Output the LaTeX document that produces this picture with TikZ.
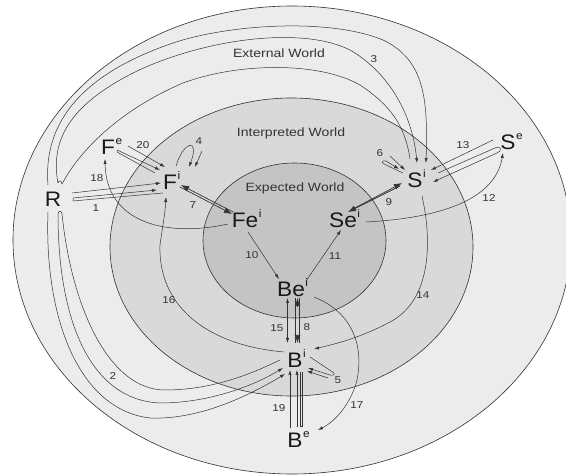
\documentclass[tikz,border=0pt]{standalone}
\usepackage{fontspec}
\setmainfont{Liberation Sans}
\newfontfamily\bigfont[FakeStretch=1.08]{Liberation Sans}
\newfontfamily\lblfont[FakeStretch=1.17]{Liberation Sans}
\usetikzlibrary{calc,arrows.meta}
\definecolor{extw}{gray}{0.925}
\definecolor{intw}{gray}{0.85}
\definecolor{expw}{gray}{0.77}
\definecolor{edge}{gray}{0.2}
\newcommand{\supr}[1]{\rlap{\smash{\raisebox{9.5pt}{\fontsize{11}{11}\selectfont\kern0.6pt#1}}}}
\tikzset{
  fbsvar/.style={font=\bigfont\fontsize{21}{22}\selectfont, inner sep=0pt, text=black!90},
  proc/.style={font=\lblfont\fontsize{10}{10}\selectfont, inner sep=0pt, text=black!80},
  worldlbl/.style={font=\lblfont\fontsize{12}{12}\selectfont, inner sep=0pt, text=black!80},
  flow/.style={draw=edge, line width=0.5pt, line join=round},
  head/.style={flow, -{Latex[length=5pt,width=3.2pt]}},
  twohead/.style={flow, {Latex[length=5pt,width=3.2pt]}-{Latex[length=5pt,width=3.2pt]}},
  bighead/.style={flow, line width=0.7pt, -{Latex[length=8pt,width=6pt]}},
  world/.style={draw=edge, line width=0.6pt}
}

\begin{document}
\begin{tikzpicture}[x=1pt,y=-1pt,font=\small]
  \useasboundingbox (0,0) rectangle (566,476);
  \clip (0,0) rectangle (566,476);
  \fill[white] (0,0) rectangle (566,476);
  \filldraw[world, fill=extw] (292,240) ellipse [x radius=279pt, y radius=234pt];
  \filldraw[world, fill=intw] (291.5,247) ellipse [x radius=181.5pt, y radius=149pt];
  \filldraw[world, fill=expw] (294.5,240.5) ellipse [x radius=91.5pt, y radius=77.5pt];

  \node[worldlbl] (extlbl) at (279,53) {External World};
  \node[worldlbl] (intlbl) at (291,133) {Interpreted World};
  \node[worldlbl] (explbl) at (295,188) {Expected World};

  \node[fbsvar] (R) at (53,199) {R};
  \node[fbsvar] (Fe) at (108,147) {F\supr{e}};
  \node[fbsvar] (Fi) at (170,182) {F\supr{i}};
  \node[fbsvar] (Fei) at (245,220) {Fe\supr{i}};
  \node[fbsvar] (Si) at (415,180) {S\supr{i}};
  \node[fbsvar] (Se) at (508,142) {S\supr{e}};
  \node[fbsvar] (Sei) at (343,220) {Se\supr{i}};
  \node[fbsvar] (Bei) at (291,289) {Be\supr{i}};
  \node[fbsvar] (Bi) at (295,360) {B\supr{i}};
  \node[fbsvar] (Be) at (295,440) {B\supr{e}};

  \node[proc] (n1) at (96,208) {1};
  \node[proc] (n2) at (113,376) {2};
  \node[proc] (n3) at (374,59) {3};
  \node[proc] (n4) at (199,141) {4};
  \node[proc] (n5) at (338,380) {5};
  \node[proc] (n6) at (380,153) {6};
  \node[proc] (n7) at (193,205) {7};
  \node[proc] (n8) at (307,327) {8};
  \node[proc] (n9) at (389,202) {9};
  \node[proc] (n10) at (252,255) {10};
  \node[proc] (n11) at (335,256) {11};
  \node[proc] (n12) at (489,198) {12};
  \node[proc] (n13) at (463,145) {13};
  \node[proc] (n14) at (423,295) {14};
  \node[proc] (n15) at (277,328) {15};
  \node[proc] (n16) at (169,300) {16};
  \node[proc] (n17) at (357,405) {17};
  \node[proc] (n18) at (97,178) {18};
  \node[proc] (n19) at (279,408) {19};
  \node[proc] (n20) at (143,145) {20};

  % 1
  \draw[head] ($(R)+(19,-6)$) -- ($(Fi)+(-9,1)$);
  \draw[head] ($(Fi)+(-7,11)$) -- ($(R)+(20,2)$) -- ($(R)+(20,-1)$) -- ($(Fi)+(-13,8)$);
  % 2
  \draw[head] ($(R)+(-5,13)$) .. controls (44,320) and (80,410) .. (150,418)
    .. controls (200,420) and (250,395) .. ($(Bi)+(-10,14)$);
  \draw[head] ($(Bi)+(-15,0)$) .. controls (255,372) and (215,390) .. (165,390)
    .. controls (110,390) and (72,310) .. ($(R)+(9,15)$)
    .. controls ($(R)+(8,11)$) and ($(R)+(6,11)$) .. ($(R)+(5,15)$)
    .. controls (58,320) and (90,400) .. (160,403)
    .. controls (210,403) and (255,385) .. ($(Bi)+(-12,8)$);
  % 3
  \draw[head] ($(R)+(-5,-14)$) .. controls (42,110) and (100,68) .. (173,43)
    .. controls (230,24) and (330,18) .. (383,40)
    .. controls (425,60) and (428,100) .. ($(Si)+(11,-17)$);
  \draw[head] ($(Si)+(-5,-21)$) .. controls (405,125) and (390,105) .. (360,85)
    .. controls (320,62) and (240,62) .. (183,83)
    .. controls (120,110) and (80,150) .. ($(R)+(9,-15)$)
    .. controls ($(R)+(8,-19)$) and ($(R)+(6,-19)$) .. ($(R)+(5,-16)$)
    .. controls (50,140) and (70,105) .. (133,73)
    .. controls (200,40) and (300,25) .. (350,50)
    .. controls (385,70) and (412,110) .. ($(Si)+(2,-17)$);
  % 4
  \draw[head] ($(Fi)+(6,-16)$) .. controls (184,140) and (200,138) .. ($(Fi)+(19,-15)$);
  \draw[head] ($(Fi)+(32,-31)$) -- ($(Fi)+(25,-15)$);
  % 5
  \draw[head] ($(Bi)+(15,-3)$) -- (331,371) .. controls (336,373) and (335,376) .. (330,375) -- ($(Bi)+(13,8)$);
  \draw[head] (328,378) -- ($(Bi)+(12,11)$);
  % 6
  \draw[head] ($(Si)+(-12,-7)$) -- (386,165) .. controls (381,163) and (381,160) .. (386,161) -- ($(Si)+(-16,-11)$);
  \draw[head] (390,156) -- ($(Si)+(-10,-10)$);
  % 7
  \draw[bighead] ($(Fi)+(10,5)$) -- ($(Fei)+(-13,-6)$);
  \draw[bighead] ($(Fei)+(-12,-8)$) -- ($(Fi)+(11,3)$);
  % 8
  \draw[flow] ($(Bei)+(4.5,9)$) -- ($(Bi)+(0.5,-17)$);
  \draw[flow] ($(Bei)+(8.5,9)$) -- ($(Bi)+(4.5,-17)$);
  \draw[bighead] ($(Bei)+(6.5,17)$) -- ($(Bei)+(6.5,9)$);
  \draw[bighead] ($(Bi)+(2.5,-25)$) -- ($(Bi)+(2.5,-17)$);
  % 9
  \draw[bighead] ($(Sei)+(10,-11)$) -- ($(Si)+(-13,3)$);
  \draw[bighead] ($(Si)+(-15,6)$) -- ($(Sei)+(5,-8)$);
  % 10, 11
  \draw[head] ($(Fei)+(3,12)$) -- ($(Bei)+(-12,-10)$);
  \draw[head] ($(Bei)+(15,-8)$) -- ($(Sei)+(-2,10)$);
  % 12
  \draw[head] ($(Sei)+(23,2)$) .. controls (440,218) and (495,200) .. ($(Se)+(-5,11)$);
  % 13
  \draw[head] ($(Se)+(-15,-2)$) -- ($(Si)+(16,-10)$);
  \draw[head] ($(Si)+(23,-7)$) -- (495,148) .. controls (501,145) and (503,151) .. (497,153) -- ($(Si)+(18,2)$);
  % 14
  \draw[head] ($(Si)+(7,16)$) .. controls (432,240) and (432,300) .. (390,322)
    .. controls (360,338) and (335,344) .. ($(Bi)+(19,-11)$);
  % 15
  \draw[twohead] ($(Bei)+(-3.5,9)$) -- ($(Bi)+(-7.5,-17)$);
  % 16
  \draw[head] ($(Bi)+(-11,-8)$) .. controls (205,345) and (158,305) .. (160,245)
    .. controls (162,230) and (165,215) .. ($(Fi)+(-4,15)$);
  % 17
  \draw[head] ($(Bei)+(23,8)$) .. controls (352,312) and (364,345) .. (357,380)
    .. controls (352,400) and (338,420) .. ($(Be)+(23,-10)$);
  % 18
  \draw[head] ($(Fei)+(-17,4)$) .. controls (165,238) and (106,222) .. ($(Fe)+(-3,12)$);
  % 19
  \draw[head] ($(Be)+(-5,-12)$) -- ($(Bi)+(-5,10)$);
  \draw[head] ($(Be)+(2,-13)$) -- ($(Bi)+(2,10)$);
  \draw[flow] ($(Bi)+(5,12)$) -- ($(Be)+(5,-14)$) -- ($(Be)+(7,-14)$) -- ($(Bi)+(7,12)$);
  % 20
  \draw[head] ($(Fe)+(20,-1)$) -- ($(Fi)+(-5,-15)$);
  \draw[head] ($(Fi)+(-15,-9)$) -- ($(Fe)+(9,5)$) -- ($(Fe)+(9,3)$) -- ($(Fi)+(-10,-12)$);
\end{tikzpicture}
\end{document}
